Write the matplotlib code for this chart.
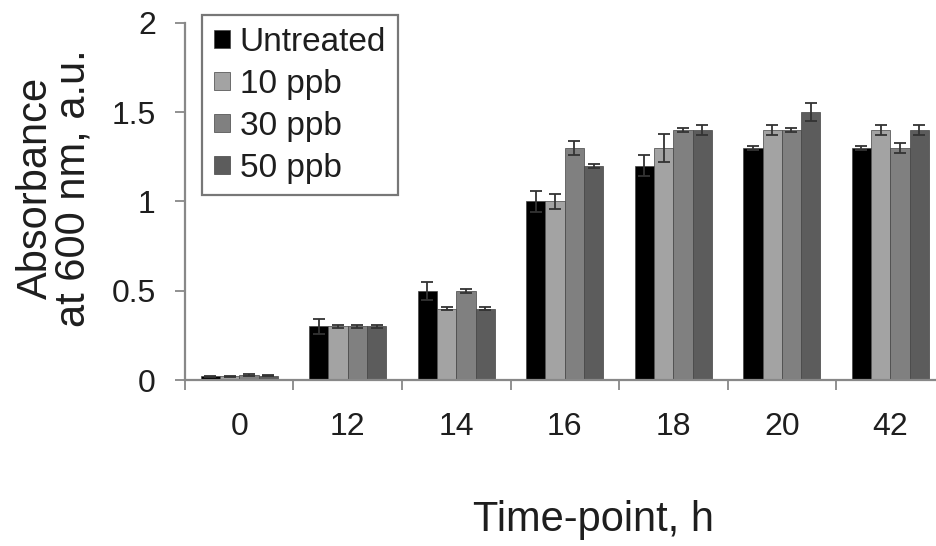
import numpy as np
import matplotlib
matplotlib.use("Agg")
import matplotlib.pyplot as plt
from matplotlib.ticker import FixedLocator, NullFormatter

plt.rcParams['font.family'] = ['Liberation Sans', 'DejaVu Sans']

# Absorbance per time-point, 4 treatments
timepoints = ["0", "12", "14", "16", "18", "20", "42"]
series_names = ["Untreated", "10 ppb", "30 ppb", "50 ppb"]
untreated = [0.02, 0.30, 0.50, 1.00, 1.20, 1.30, 1.30]
ppb10 = [0.02, 0.30, 0.40, 1.00, 1.30, 1.40, 1.40]
ppb30 = [0.03, 0.30, 0.50, 1.30, 1.40, 1.40, 1.30]
ppb50 = [0.025, 0.30, 0.40, 1.20, 1.40, 1.50, 1.40]
err_untreated = [0.005, 0.04, 0.05, 0.06, 0.06, 0.01, 0.01]
err_10 = [0.005, 0.01, 0.01, 0.04, 0.08, 0.03, 0.03]
err_30 = [0.005, 0.01, 0.01, 0.04, 0.01, 0.01, 0.03]
err_50 = [0.005, 0.01, 0.01, 0.01, 0.03, 0.05, 0.03]

colores = ["#000000", "#a3a3a3", "#808080", "#5c5c5c"]
texto = "#1e1e1e"

def plot_barras():
    fig = plt.figure(figsize=(9.37, 5.46), dpi=100)
    ax = fig.add_axes([0.1974, 0.304, 0.8026, 0.654])
    x = np.arange(len(timepoints))
    ancho = 0.178
    datos = [untreated, ppb10, ppb30, ppb50]
    errores = [err_untreated, err_10, err_30, err_50]
    for i, (vals, errs) in enumerate(zip(datos, errores)):
        pos = x + (i - 1.5) * ancho
        ax.bar(pos, vals, width=ancho, color=colores[i], label=series_names[i],
               edgecolor="#444444", linewidth=0.5)
        ax.errorbar(pos, vals, yerr=errs, fmt="none", ecolor="#333333",
                    elinewidth=1.3, capsize=4.5, capthick=1.3)

    ax.set_xlim(-0.5, 6.43)
    ax.set_ylim(0, 2)
    ax.set_yticks([0, 0.5, 1, 1.5, 2])
    ax.set_yticklabels(["0", "0.5", "1", "1.5", "2"])
    ax.set_xticks(x)
    ax.set_xticklabels(timepoints)
    ax.tick_params(axis="x", which="major", length=0, labelsize=23, pad=23,
                   labelcolor=texto)
    ax.xaxis.set_minor_locator(FixedLocator(np.arange(len(timepoints)) - 0.5))
    ax.xaxis.set_minor_formatter(NullFormatter())
    ax.tick_params(axis="x", which="minor", length=7, color="#888888", width=1.3)
    ax.tick_params(axis="y", length=7, color="#888888", width=1.3, labelsize=23,
                   pad=14, labelcolor=texto)

    for lado in ["top", "right"]:
        ax.spines[lado].set_visible(False)
    for lado in ["left", "bottom"]:
        ax.spines[lado].set_color("#888888")
        ax.spines[lado].set_linewidth(1.6)

    fig.text(55 / 937, 1 - 188 / 546, "Absorbance\nat 600 nm, a.u.", rotation=90,
             ha="center", va="center", fontsize=30, linespacing=0.92, color=texto)
    fig.text(594 / 937, 1 - 520 / 546, "Time-point, h", ha="center", va="center",
             fontsize=30, color=texto)

    leg = ax.legend(loc="upper left", bbox_to_anchor=(0.0226, 1.022), fontsize=24,
                    frameon=True, fancybox=False, edgecolor="#555555",
                    handlelength=0.48, handleheight=0.45, handletextpad=0.3,
                    labelspacing=0.33, borderpad=0.35, borderaxespad=0.0)
    leg.get_frame().set_linewidth(1.6)
    for t in leg.get_texts():
        t.set_color(texto)

    fig.savefig("out.png", dpi=100)

if __name__ == "__main__":
    plot_barras()
